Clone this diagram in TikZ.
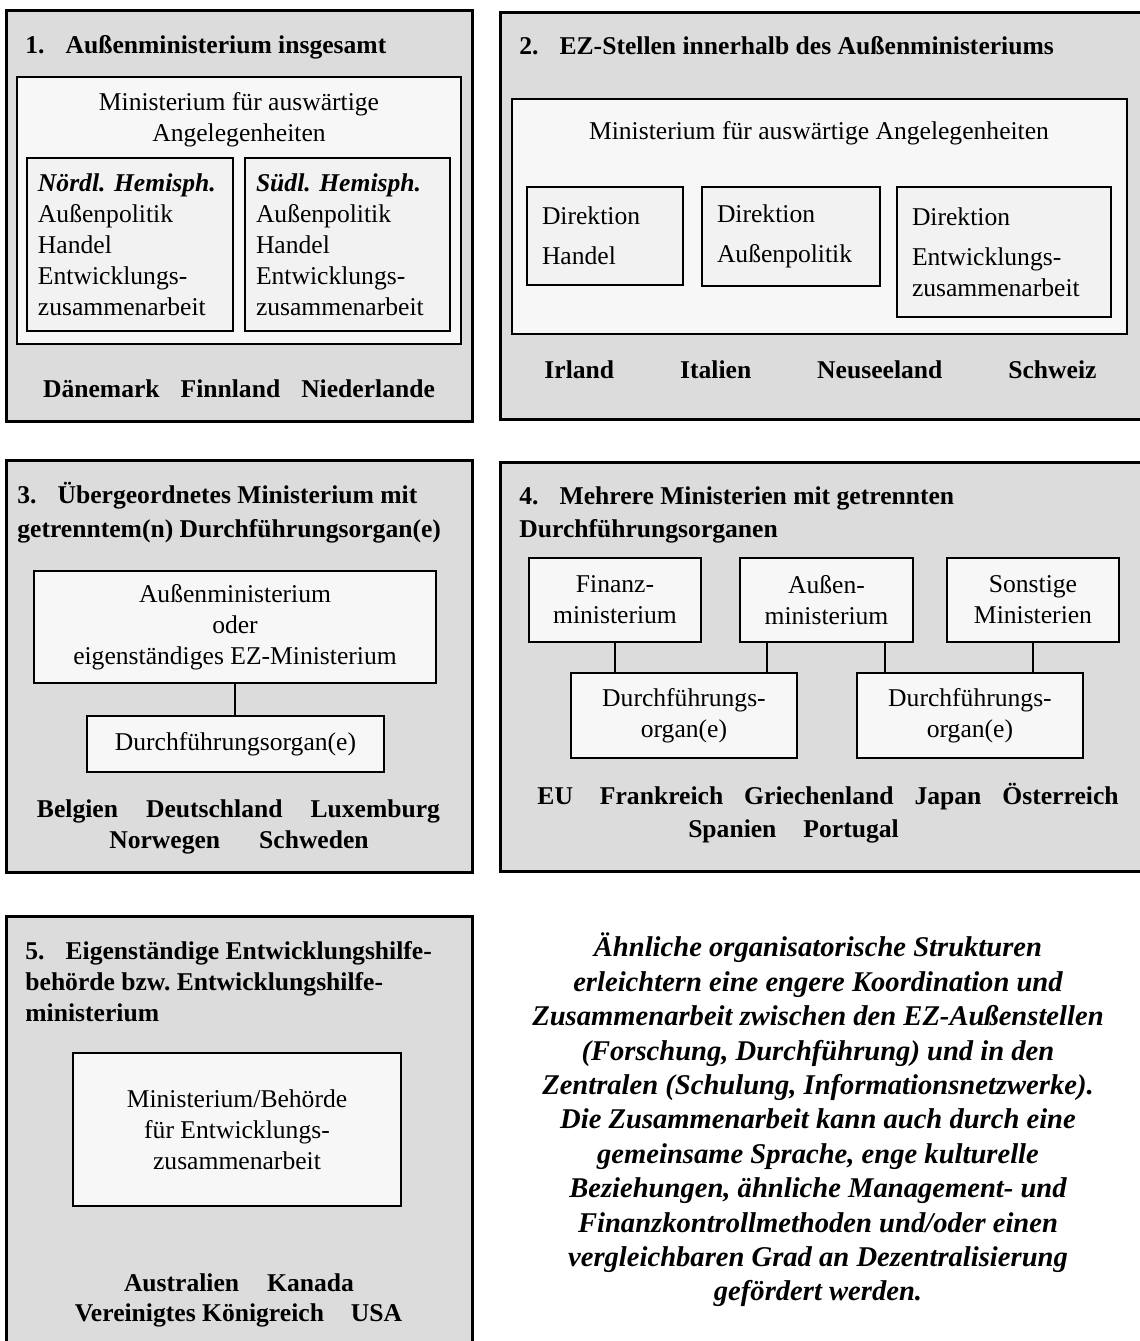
\documentclass[tikz,border=0pt]{standalone}
\usepackage{fontspec}
\setmainfont{Liberation Serif}
\usetikzlibrary{fit,positioning}
\definecolor{panelgray}{RGB}{220,220,220}
\definecolor{boxwhite}{RGB}{247,247,247}
\definecolor{boxgray}{RGB}{242,242,242}
\newcommand{\Ngap}{\hspace{10.5pt}}
\frenchspacing

\begin{document}
\begin{tikzpicture}[
x=0.5pt, y=-0.5pt,
every node/.style={font=\fontsize{12.8pt}{15.5pt}\selectfont},
panel/.style = {draw, line width=1.5pt, fill=panelgray, inner sep=0pt},
frame/.style = {draw, line width=0.9pt, fill=boxwhite, inner sep=0pt},
MB/.style = {draw, line width=0.9pt, fill=boxwhite, align=center, inner sep=0pt},
DB/.style = {draw, line width=0.9pt, fill=boxgray, align=left,
             inner xsep=#1, inner ysep=0pt},
DB/.default = 5.5pt,
head/.style = {anchor=base west, inner sep=0pt, align=left,
               font=\fontsize{12.8pt}{#1}\selectfont\bfseries},% base = last line
land/.style = {anchor=base, inner sep=0pt,
               font=\fontsize{12.8pt}{15.5pt}\selectfont\bfseries},
link/.style = {line width=0.8pt}
    ]
\useasboundingbox (0,0) rectangle (1140,1341);

%% 1. Aussenministerium insgesamt
\node[panel, fit={(6,10) (472,421)}] (PanelOne) {};
\node[head=15.5pt] (TitleOne) at (25,53) {1.\Ngap Außenministerium insgesamt};
\node[frame, fit={(17,77) (461,344)}] (MfaOne) {};
\node[inner sep=0pt, align=center] (MfaOneText) at (239,120)
        {Ministerium für auswärtige\\Angelegenheiten};
\node[DB, text width=92pt, minimum height=86.5pt] (Nord) at (130,244.5)
        {\textbf{\textit{Nördl. Hemisph.}}\\Außenpolitik\\Handel\\Entwicklungs-\\zusammenarbeit};
\node[DB, text width=91.5pt, minimum height=86.5pt] (Sued) at (347.5,244.5)
        {\textbf{\textit{Südl. Hemisph.}}\\Außenpolitik\\Handel\\Entwicklungs-\\zusammenarbeit};
\node[land] (LaenderOne) at (239,397)
        {Dänemark\hspace{10.5pt}Finnland\hspace{10.5pt}Niederlande};

%% 2. EZ-Stellen innerhalb des Aussenministeriums
\node[panel, fit={(500,12) (1142,419)}] (PanelTwo) {};
\node[head=15.5pt] (TitleTwo) at (519,54) {2.\Ngap EZ-Stellen innerhalb des Außenministeriums};
\node[frame, fit={(512,99) (1127,334)}] (MfaTwo) {};
\node[inner sep=0pt] (MfaTwoText) at (819,133) {Ministerium für auswärtige Angelegenheiten};
\node[DB=7.5pt, text width=63pt, minimum height=49pt] (DirHandel) at (605,236)
        {Direktion\\[4.5pt]Handel};
\node[DB=7.5pt, text width=74pt, minimum height=49.5pt] (DirAussen) at (791,236.5)
        {Direktion\\[4.5pt]Außenpolitik};
\node[DB=7.5pt, text width=92pt, minimum height=65pt] (DirEZ) at (1004,252)
        {Direktion\\[4.5pt]Entwicklungs-\\zusammenarbeit};
\node[land] (LaenderTwo) at (820.5,378)
        {Irland\hspace{33pt}Italien\hspace{33pt}Neuseeland\hspace{33pt}Schweiz};

%% 3. Uebergeordnetes Ministerium
\node[panel, fit={(6,460) (472,872)}] (PanelThree) {};
\node[head=17pt] (TitleThree) at (17,537)
        {3.\Ngap Übergeordnetes Ministerium mit\\getrenntem(n) Durchführungsorgan(e)};
\node[MB, minimum width=201pt, minimum height=56pt] (AussenThree) at (235,627)
        {Außenministerium\\oder\\eigenständiges EZ-Ministerium};
\node[MB, minimum width=148.5pt, minimum height=28pt] (DurchThree) at (235.5,744)
        {Durchführungsorgan(e)};
\draw[link] (AussenThree.south) -- (AussenThree.south |- DurchThree.north);
\node[land] (LaenderThreeA) at (238.5,817)
        {Belgien\hspace{14pt}Deutschland\hspace{14pt}Luxemburg};
\node[land] (LaenderThreeB) at (239,848)
        {Norwegen\hspace{19.5pt}Schweden};

%% 4. Mehrere Ministerien
\node[panel, fit={(500,462) (1142,871)}] (PanelFour) {};
\node[head=16.5pt] (TitleFour) at (519,537)
        {4.\Ngap Mehrere Ministerien mit getrennten\\Durchführungsorganen};
\node[MB, minimum width=86pt, minimum height=42pt] (Finanz) at (615,600)
        {Finanz-\\ministerium};
\node[MB, minimum width=86.5pt, minimum height=42pt] (AussenFour) at (826.5,600)
        {Außen-\\ministerium};
\node[MB, minimum width=86pt, minimum height=42pt] (Sonstige) at (1033,600)
        {Sonstige\\Ministerien};
\node[MB, minimum width=113pt, minimum height=42.5pt] (DurchL) at (684,715.5)
        {Durchführungs-\\organ(e)};
\node[MB, minimum width=113pt, minimum height=42.5pt] (DurchR) at (970,715.5)
        {Durchführungs-\\organ(e)};
\draw[link] (Finanz.south) -- (Finanz.south |- DurchL.north);
\draw[link] ([xshift=14pt]AussenFour.south west) -- ([xshift=14pt]AussenFour.south west |- DurchL.north);
\draw[link] ([xshift=-14.5pt]AussenFour.south east) -- ([xshift=-14.5pt]AussenFour.south east |- DurchR.north);
\draw[link] (Sonstige.south) -- (Sonstige.south |- DurchR.north);
\node[land] (LaenderFourA) at (828,804)
        {EU\hspace{13.5pt}Frankreich\hspace{10.5pt}Griechenland\hspace{10.5pt}Japan\hspace{10.5pt}Österreich};
\node[land] (LaenderFourB) at (793.5,837)
        {Spanien\hspace{13.5pt}Portugal};

%% 5. Eigenstaendige Behoerde
\node[panel, fit={(6,916) (472,1343)}] (PanelFive) {};
\node[head=15.3pt] (TitleFive) at (25,1021)
        {5.\Ngap Eigenständige Entwicklungshilfe-\\behörde bzw. Entwicklungshilfe-\\ministerium};
\node[MB, minimum width=164pt, minimum height=76.5pt] (BehoerdeFive) at (237,1129.5)
        {Ministerium/Behörde\\für Entwicklungs-\\zusammenarbeit};
\node[land] (LaenderFiveA) at (239,1291)
        {Australien\hspace{14pt}Kanada};
\node[land] (LaenderFiveB) at (238.5,1321)
        {Vereinigtes Königreich\hspace{13.5pt}USA};

%% Anmerkung
\node[inner sep=0pt, align=center, font=\fontsize{14.3pt}{17.2pt}\selectfont\bfseries\itshape]
        (Anmerkung) at (818,1120)
        {Ähnliche organisatorische Strukturen\\
         erleichtern eine engere Koordination und\\
         Zusammenarbeit zwischen den EZ-Außenstellen\\
         (Forschung, Durchführung) und in den\\
         Zentralen (Schulung, Informationsnetzwerke).\\
         Die Zusammenarbeit kann auch durch eine\\
         gemeinsame Sprache, enge kulturelle\\
         Beziehungen, ähnliche Management- und\\
         Finanzkontrollmethoden und/oder einen\\
         vergleichbaren Grad an Dezentralisierung\\
         gefördert werden.};
\end{tikzpicture}
\end{document}
